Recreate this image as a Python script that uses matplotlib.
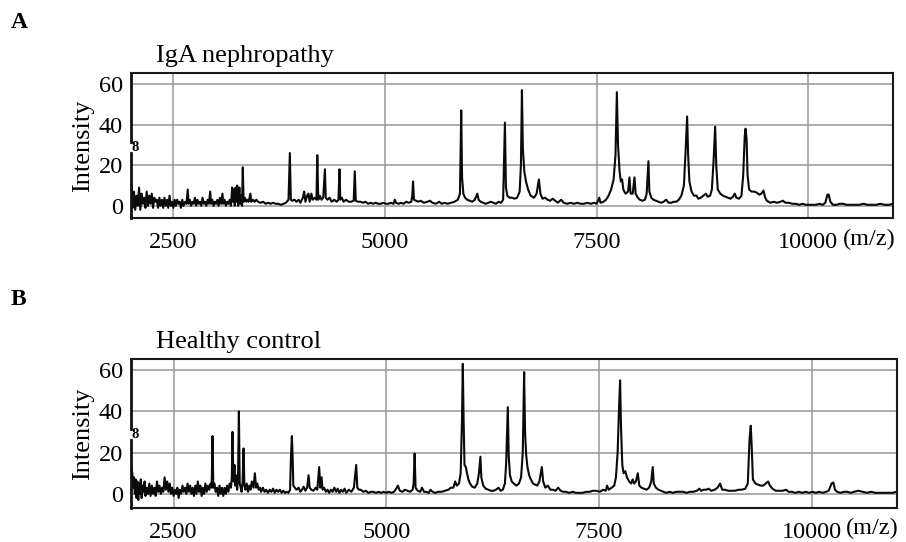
import matplotlib
matplotlib.use("Agg")
import matplotlib.pyplot as plt

plt.rcParams["font.family"] = ["Liberation Serif", "DejaVu Serif"]

# IgA nephropathy spectrum (m/z, intensity)
iga_mz = [
    2000, 2008, 2020, 2035, 2050, 2065, 2080, 2095, 2110, 2125,
    2140, 2155, 2170, 2185, 2200, 2215, 2230, 2245, 2260, 2275,
    2290, 2305, 2320, 2335, 2350, 2365, 2380, 2395, 2410, 2425,
    2440, 2455, 2470, 2485, 2500, 2515, 2530, 2545, 2560, 2575,
    2590, 2605, 2620, 2640, 2655, 2670, 2680, 2695, 2710, 2725,
    2740, 2755, 2770, 2785, 2800, 2815, 2830, 2845, 2860, 2875,
    2890, 2905, 2920, 2935, 2945, 2960, 2975, 2990, 3005, 3020,
    3035, 3050, 3065, 3080, 3090, 3105, 3120, 3135, 3150, 3165,
    3180, 3195, 3205, 3215, 3225, 3235, 3245, 3255, 3265, 3280,
    3290, 3300, 3312, 3320, 3330, 3345, 3360, 3375, 3390, 3410,
    3420, 3440, 3460, 3480, 3500, 3530, 3560, 3590, 3620, 3650,
    3680, 3710, 3740, 3770, 3800, 3830, 3860, 3876, 3888, 3905,
    3930, 3955, 3980, 4000, 4030, 4045, 4060, 4080, 4095, 4110,
    4130, 4145, 4170, 4190, 4200, 4212, 4230, 4250, 4270, 4290,
    4300, 4320, 4345, 4370, 4400, 4430, 4450, 4462, 4472, 4490,
    4510, 4540, 4570, 4600, 4630, 4643, 4655, 4680, 4710, 4740,
    4770, 4800, 4830, 4860, 4890, 4920, 4950, 4980, 5010, 5040,
    5070, 5100, 5115, 5130, 5160, 5190, 5220, 5250, 5280, 5310,
    5322, 5331, 5342, 5365, 5390, 5420, 5460, 5500, 5530, 5560,
    5600, 5640, 5670, 5700, 5740, 5780, 5820, 5860, 5885, 5900,
    5910, 5925, 5945, 5970, 6000, 6030, 6060, 6090, 6105, 6130,
    6160, 6190, 6220, 6250, 6280, 6310, 6340, 6370, 6395, 6416,
    6428, 6445, 6470, 6500, 6530, 6560, 6590, 6605, 6617, 6628,
    6645, 6665, 6690, 6720, 6760, 6790, 6817, 6835, 6860, 6890,
    6920, 6950, 6980, 7010, 7040, 7080, 7110, 7150, 7190, 7230,
    7270, 7310, 7350, 7390, 7430, 7470, 7500, 7530, 7545, 7580,
    7610, 7640, 7670, 7700, 7722, 7738, 7752, 7770, 7785, 7800,
    7815, 7840, 7870, 7887, 7900, 7925, 7946, 7960, 7985, 8010,
    8040, 8070, 8090, 8100, 8111, 8122, 8145, 8170, 8200, 8230,
    8260, 8290, 8320, 8350, 8380, 8410, 8440, 8470, 8500, 8530,
    8550, 8568, 8580, 8595, 8620, 8650, 8680, 8700, 8730, 8760,
    8790, 8810, 8840, 8860, 8880, 8899, 8912, 8930, 8960, 8990,
    9020, 9050, 9080, 9110, 9130, 9150, 9180, 9210, 9230, 9248,
    9258, 9270, 9282, 9300, 9330, 9360, 9390, 9420, 9445, 9470,
    9490, 9510, 9550, 9590, 9630, 9670, 9700, 9730, 9770, 9810,
    9850, 9890, 9930, 9970, 10010, 10050, 10090, 10130, 10170, 10200,
    10225, 10240, 10260, 10290, 10330, 10370, 10410, 10450, 10500, 10550,
    10600, 10650, 10700, 10750, 10800, 10850, 10900, 10950, 11000,
]
iga_int = [
    2, 10, -1, 7, -2, 5, 0, 9, -2, 6,
    1, 4, -1, 7, 0, 5, 1, 6, -1, 4,
    2, 3, -1, 4, 0, 3, -1, 4, 0, 3,
    -1, 5, 0, 2, -1, 3, 0, 3, 1, 2,
    -1, 3, 0, 2, 1, 8, 1, 3, 0, 2,
    1, 4, 0, 3, 1, 2, 0, 4, 1, 2,
    0, 3, 1, 7, 1, 3, 0, 2, 1, 3,
    0, 4, 1, 6, 1, 3, 0, 2, 1, 3,
    0, 9, 2, 8, 0, 9, 2, 10, 0, 9,
    1, 5, 0, 19, 2, 4, 2, 3, 2, 6,
    2, 3, 2, 3, 2, 1.5, 2, 1, 1.5, 1,
    1.5, 1, 1, 0.5, 1, 1.5, 3, 26, 3, 2.5,
    3, 2, 3, 1.5, 4, 7, 2, 5, 6, 2,
    6, 3, 4, 3, 25, 3, 5, 3, 4, 18,
    4, 3, 4, 2, 3, 2, 3, 18, 3, 4,
    2, 3, 2, 2, 2.5, 17, 2.5, 2, 2, 1.5,
    2, 1, 1.5, 1, 1.5, 1, 1, 1.5, 1, 1,
    1.5, 1, 3, 1.5, 1, 1.5, 1, 2, 1.5, 2,
    5, 12, 3, 2.5, 2, 2.5, 1.5, 2, 2.5, 1.5,
    1, 2, 1, 1.5, 1, 1.5, 2, 3, 6, 47,
    14, 6, 4, 3, 2.5, 2, 3, 6, 3, 2,
    1.5, 1, 1.5, 2, 1.5, 1, 2, 1.5, 3, 41,
    9, 5, 4, 4, 3.5, 4, 7, 20, 57, 28,
    17, 12, 8, 5, 4, 6, 13, 6, 3.5, 4,
    3, 2.5, 3.5, 2.5, 1.5, 3, 1.5, 1, 1.5, 1,
    1.5, 1, 1, 1.5, 1, 1.5, 1, 4, 1.5, 2,
    3, 5, 8, 13, 25, 56, 30, 17, 12, 13,
    8, 6, 7, 14, 6, 6, 14, 6, 4, 3,
    2.5, 3, 6, 14, 22, 7, 4, 3, 2.5, 2,
    1.5, 2, 3, 1.5, 1.5, 2, 2, 3, 5, 10,
    27, 44, 25, 12, 7, 5, 5, 3.5, 4, 5,
    6, 4.5, 5, 8, 22, 39, 20, 8, 6, 5,
    4.5, 4, 3.5, 4.5, 6, 4, 3.5, 5, 15, 34,
    38, 33, 15, 8, 7, 7, 6.5, 5.5, 6, 7.5,
    4, 2.5, 1.5, 2, 1.5, 2, 2.5, 1.5, 1.5, 1,
    1, 0.5, 1, 0.5, 0.5, 0.5, 0.5, 1, 0.5, 1.5,
    5.5, 5.5, 2, 0.5, 0.5, 1, 1, 0.5, 0.5, 0.5,
    0.5, 1, 0.5, 0.5, 0.5, 1, 0.5, 0.5, 1,
]

# Healthy control spectrum
ctrl_mz = [
    2000, 2005, 2015, 2025, 2035, 2045, 2055, 2065, 2075, 2085,
    2095, 2105, 2115, 2125, 2135, 2145, 2160, 2170, 2185, 2200,
    2215, 2230, 2245, 2260, 2275, 2290, 2305, 2320, 2335, 2350,
    2365, 2380, 2395, 2410, 2425, 2440, 2455, 2470, 2485, 2500,
    2515, 2530, 2545, 2560, 2575, 2590, 2605, 2620, 2635, 2650,
    2665, 2680, 2695, 2710, 2725, 2740, 2755, 2770, 2785, 2800,
    2815, 2830, 2845, 2860, 2875, 2890, 2905, 2920, 2935, 2948,
    2958, 2968, 2980, 2995, 3010, 3025, 3040, 3055, 3070, 3085,
    3100, 3115, 3130, 3145, 3160, 3175, 3185, 3193, 3203, 3210,
    3217, 3225, 3235, 3248, 3258, 3268, 3278, 3290, 3300, 3312,
    3323, 3333, 3345, 3360, 3375, 3390, 3405, 3420, 3440, 3456,
    3470, 3485, 3500, 3515, 3530, 3550, 3570, 3590, 3610, 3630,
    3650, 3670, 3690, 3710, 3730, 3750, 3770, 3790, 3810, 3830,
    3850, 3870, 3880, 3891, 3900, 3908, 3925, 3945, 3970, 3990,
    4010, 4030, 4050, 4070, 4087, 4100, 4120, 4145, 4170, 4190,
    4212, 4225, 4240, 4252, 4270, 4290, 4310, 4330, 4350, 4370,
    4390, 4410, 4430, 4450, 4470, 4490, 4510, 4530, 4560, 4590,
    4620, 4647, 4660, 4680, 4700, 4730, 4760, 4790, 4820, 4850,
    4880, 4910, 4940, 4970, 5000, 5030, 5060, 5090, 5110, 5137,
    5160, 5190, 5220, 5250, 5280, 5310, 5322, 5334, 5345, 5370,
    5400, 5420, 5445, 5470, 5500, 5520, 5545, 5575, 5610, 5650,
    5690, 5730, 5760, 5790, 5810, 5830, 5855, 5875, 5890, 5900,
    5910, 5920, 5935, 5950, 5965, 5985, 6010, 6040, 6070, 6090,
    6107, 6118, 6140, 6170, 6200, 6230, 6260, 6290, 6320, 6345,
    6370, 6395, 6410, 6429, 6440, 6455, 6475, 6500, 6530, 6560,
    6585, 6605, 6621, 6632, 6645, 6660, 6680, 6700, 6725, 6750,
    6775, 6800, 6829, 6845, 6870, 6900, 6930, 6960, 6990, 7020,
    7050, 7080, 7110, 7150, 7190, 7230, 7270, 7310, 7350, 7390,
    7430, 7470, 7510, 7550, 7580, 7596, 7615, 7650, 7680, 7700,
    7720, 7735, 7749, 7760, 7775, 7790, 7810, 7830, 7855, 7880,
    7897, 7915, 7935, 7957, 7975, 8000, 8030, 8060, 8090, 8115,
    8133, 8145, 8170, 8200, 8230, 8260, 8290, 8330, 8370, 8410,
    8450, 8490, 8530, 8570, 8610, 8650, 8681, 8700, 8730, 8760,
    8790, 8820, 8860, 8895, 8924, 8950, 8980, 9020, 9060, 9100,
    9140, 9180, 9220, 9250, 9270, 9285, 9297, 9310, 9340, 9370,
    9400, 9430, 9460, 9490, 9510, 9540, 9580, 9620, 9660, 9700,
    9730, 9770, 9810, 9850, 9890, 9930, 9970, 10010, 10050, 10090,
    10130, 10170, 10200, 10235, 10256, 10275, 10300, 10340, 10380, 10420,
    10460, 10500, 10550, 10600, 10650, 10700, 10750, 10800, 10850, 10900,
    10950, 11000,
]
ctrl_int = [
    5, 13, 10, 3, 8, 0, 7, -2, 6, -3,
    5, 0, 7, -2, 4, 1, 6, -1, 3, 0,
    5, -1, 4, 0, 3, -1, 6, 1, 4, 0,
    3, 1, 8, 2, 6, 1, 5, 0, 3, -1,
    2, 0, 3, -2, 2, 0, 4, 1, 3, 0,
    5, 1, 4, 0, 3, -1, 4, 0, 6, 1,
    4, -1, 3, 0, 5, 1, 4, 2, 5, 3,
    28, 3, 5, 1, 3, -1, 4, 0, 3, -1,
    3, 0, 4, 1, 5, 3, 8, 30, 6, 10,
    14, 4, 9, 2, 8, 40, 5, 3, 1, 6,
    22, 4, 2, 5, 1, 4, 2, 6, 3, 10,
    3, 5, 2, 3, 1, 3, 1, 2, 0.5, 2,
    1, 2.5, 0.5, 2, 1, 2, 0.5, 1.5, 0.5, 1,
    0.5, 2, 18, 28, 18, 4, 3, 2, 3, 1,
    2, 3.5, 1.5, 3, 9, 3, 2, 1.5, 3, 2,
    13, 3, 8, 2, 3, 1, 2, 0.5, 2, 1,
    3, 1, 2.5, 0.5, 2, 1, 2.5, 0.5, 2, 1,
    3, 14, 3, 2, 2, 1, 1.5, 0.5, 1, 1,
    0.5, 1, 0.5, 1, 0.5, 1, 0.5, 1, 2, 4,
    1.5, 1, 2, 1.5, 1, 2, 5, 19.5, 3, 1.5,
    1, 3, 1, 1, 0.5, 2, 1, 0.5, 1, 1,
    1.5, 2, 3, 3, 6, 4, 5, 10, 35, 63,
    35, 14, 13, 10, 7, 5, 3.5, 3, 5, 10,
    18, 8, 4, 2.5, 2, 1.5, 1.5, 2, 3, 1.5,
    2, 5, 15, 42, 18, 9, 6, 5, 4, 5,
    8, 20, 59, 30, 19, 13, 9, 7, 5, 4.5,
    4, 6, 13, 6, 3, 4, 2, 2, 1.5, 3,
    1.5, 1, 1, 0.5, 1, 0.5, 0.5, 0.5, 1, 1,
    1.5, 1.5, 1, 2, 1.5, 4, 2, 3, 4, 8,
    20, 40, 55, 32, 14, 10, 11, 8, 6, 5,
    7, 5, 6, 10, 4, 3, 2.5, 2, 3, 6,
    13, 5, 3, 2, 1.5, 1, 0.5, 1, 0.5, 1,
    1, 1, 0.5, 1, 1, 1.5, 2.5, 1.5, 2, 2,
    2.5, 1.5, 2, 3, 5, 2, 2, 1.5, 1.5, 1.5,
    2, 2, 2.5, 5, 26, 33, 22, 7, 5, 4.5,
    4, 4, 5, 6, 4, 2.5, 1.5, 1.5, 1.5, 2,
    1, 1, 0.5, 1, 0.5, 1, 0.5, 1, 0.5, 1,
    0.5, 1, 1.5, 5, 5.5, 2, 1, 0.5, 1, 1,
    0.5, 1, 1.5, 1, 0.5, 1, 0.5, 0.5, 0.5, 0.5,
    0.5, 1,
]

x_ticks = [2500, 5000, 7500, 10000]
y_ticks = [0, 20, 40, 60]
titles = ["IgA nephropathy", "Healthy control"]
letters = ["A", "B"]

fig = plt.figure(figsize=(9.06, 5.42), dpi=100)
ax1 = fig.add_axes([0.1446, 0.5978, 0.8411, 0.2670])
ax2 = fig.add_axes([0.1446, 0.0633, 0.8451, 0.2738])


def panel(ax, mz, inten, title, ylim):
    ax.plot(mz, inten, color="#0a0a0a", lw=1.5)
    ax.set_xlim(2000, 11000)
    ax.set_ylim(*ylim)
    ax.set_xticks(x_ticks)
    ax.set_yticks(y_ticks)
    ax.grid(True, color="#a0a0a0", lw=1.2)
    ax.set_axisbelow(True)
    ax.tick_params(length=0, labelsize=17.5)
    ax.tick_params(axis="x", pad=10)
    ax.tick_params(axis="y", pad=6)
    for s in ["top", "bottom", "right"]:
        ax.spines[s].set_linewidth(1.5)
        ax.spines[s].set_color("#1a1a1a")
    # left spine is broken around the small marker
    ax.spines["left"].set_visible(False)
    lo, hi = ylim
    b0 = (26 - lo) / (hi - lo)
    b1 = (31.5 - lo) / (hi - lo)
    ax.plot([0, 0], [0, b0], transform=ax.transAxes, color="#111111",
            lw=2.0, clip_on=False)
    ax.plot([0, 0], [b1, 1], transform=ax.transAxes, color="#111111",
            lw=2.0, clip_on=False)
    ax.text(2045, 28.7, "8", fontsize=10.5, fontweight="bold", ha="center",
            va="center")
    ax.set_ylabel("Intensity", fontsize=19, labelpad=3)
    ax.set_title(title, loc="left", fontsize=19, x=0.033, pad=8)
    ax.annotate("(m/z)", xy=(10000, 0), xycoords=("data", "axes fraction"),
                xytext=(25, -7.5), textcoords="offset points", ha="left",
                va="top", fontsize=17.5)


panel(ax1, iga_mz, iga_int, titles[0], (-6, 65.3))
panel(ax2, ctrl_mz, ctrl_int, titles[1], (-6.7, 65.2))

fig.text(0.012, 0.958, letters[0], fontsize=17, fontweight="bold", va="center")
fig.text(0.012, 0.447, letters[1], fontsize=17, fontweight="bold", va="center")

fig.savefig("out.png", dpi=100)
